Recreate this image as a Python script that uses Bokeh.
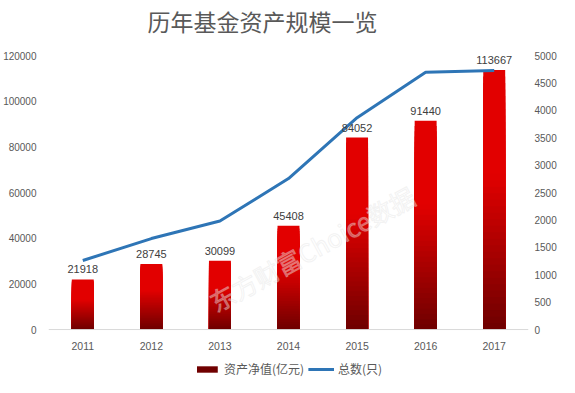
from bokeh.plotting import figure
from bokeh.models import (ColumnDataSource, Range1d, LinearAxis, FactorRange,
                          Legend, LegendItem, LabelSet, Span, BasicTickFormatter, Label)
from bokeh.core.properties import value
from bokeh.embed import file_html
from bokeh.resources import INLINE

years = ["2011", "2012", "2013", "2014", "2015", "2016", "2017"]
net_assets = [21918, 28745, 30099, 45408, 84052, 91440, 113667]
fund_count = [1260, 1660, 1980, 2755, 3865, 4695, 4725]
title = "历年基金资产规模一览"

CJK = "Noto Sans CJK SC"
NUM = "Liberation Sans"

LOW, HIGH = -21000, 144100  # frame extends above/below the value axes for title, labels, legend
p = figure(x_range=FactorRange(*years, range_padding=0), y_range=Range1d(LOW, HIGH),
           width=559, height=377, output_backend="svg", toolbar_location=None,
           x_axis_location=None, min_border_left=0, min_border_right=0,
           min_border_bottom=0, min_border_top=0)
p.extra_y_ranges = {"count": Range1d(LOW * 5000 / 120000, HIGH * 5000 / 120000)}
p.outline_line_color = None
p.xgrid.grid_line_color = None
p.ygrid.grid_line_color = None

# title drawn inside the frame
p.add_layout(Label(x=3.12, y=135300, text=title, text_align="center",
                   text_baseline="middle", text_font=CJK, text_font_size="23px",
                   text_color="#595959"))

# gradient bars: stacked overlapping bars from bottom=0, tallest first
N = 40
dark = (110, 0, 0)
bright = (226, 0, 0)
xs, tops, cols = [], [], []
for i in range(N, 0, -1):
    f = (i - 0.5) / N
    t = min(f / 0.6, 1.0)
    c = tuple(int(round(dark[k] + (bright[k] - dark[k]) * t)) for k in range(3))
    hexc = "#%02x%02x%02x" % c
    for y, v in zip(years, net_assets):
        xs.append(y)
        tops.append(v * i / N)
        cols.append(hexc)
bar_src = ColumnDataSource(dict(x=xs, top=tops, color=cols))
bars = p.vbar(x="x", top="top", bottom=0, width=0.32, fill_color="color",
              line_color=None, source=bar_src)

# zero line (category axis line)
p.add_layout(Span(location=0, dimension="width", line_color="#D9D9D9", line_width=1))

lab_src = ColumnDataSource(dict(x=years, y=net_assets, t=[str(v) for v in net_assets],
                                zero=[0] * len(years)))
p.add_layout(LabelSet(x="x", y="y", text="t", source=lab_src, y_offset=6,
                      text_align="center", text_baseline="bottom",
                      text_font=value(NUM), text_font_size="11px",
                      text_color="#404040"))
# category labels
p.add_layout(LabelSet(x="x", y="zero", text="x", source=lab_src, y_offset=-12,
                      text_align="center", text_baseline="top",
                      text_font=value(NUM), text_font_size="10.5px",
                      text_color="#595959"))

line_src = ColumnDataSource(dict(x=years, y=fund_count))
ln = p.line(x="x", y="y", source=line_src, y_range_name="count",
            line_color="#2E75B6", line_width=3)

# watermark
p.text(x=[3.84], y=[35500], text=["东方财富Choice数据"], angle=0.5,
       text_align="center", text_baseline="middle", text_font=value(CJK),
       text_font_size="25px", text_color="#ffffff", text_alpha=0.35,
       text_outline_color="#dadada")

# axes
p.yaxis.axis_line_color = None
p.yaxis.major_tick_line_color = None
p.yaxis.minor_tick_line_color = None
p.yaxis.major_tick_out = 0
p.yaxis.major_tick_in = 0
p.yaxis.minor_tick_out = 0
p.yaxis.major_label_standoff = 12
p.yaxis.major_label_text_font = NUM
p.yaxis.major_label_text_font_size = "10px"
p.yaxis.major_label_text_color = "#595959"
p.yaxis.ticker = [0, 20000, 40000, 60000, 80000, 100000, 120000]
p.yaxis.formatter = BasicTickFormatter(use_scientific=False)

ra = LinearAxis(y_range_name="count", ticker=list(range(0, 5001, 500)))
ra.axis_line_color = None
ra.major_tick_line_color = None
ra.minor_tick_line_color = None
ra.major_tick_out = 0
ra.major_tick_in = 0
ra.minor_tick_out = 0
ra.major_label_standoff = 6
ra.major_label_text_font = NUM
ra.major_label_text_font_size = "10px"
ra.major_label_text_color = "#595959"
p.add_layout(ra, "right")

legend = Legend(items=[LegendItem(label="资产净值(亿元)", renderers=[bars], index=N * 7 - 7),
                       LegendItem(label="总数(只)", renderers=[ln])],
                orientation="horizontal", location="bottom_center",
                label_text_font=CJK, label_text_font_size="12px",
                label_text_color="#595959", glyph_width=26, glyph_height=8,
                border_line_color=None, background_fill_alpha=0,
                spacing=4, label_standoff=4, padding=1, margin=0)
p.add_layout(legend)

open("out.html", "w").write(file_html(p, INLINE))
